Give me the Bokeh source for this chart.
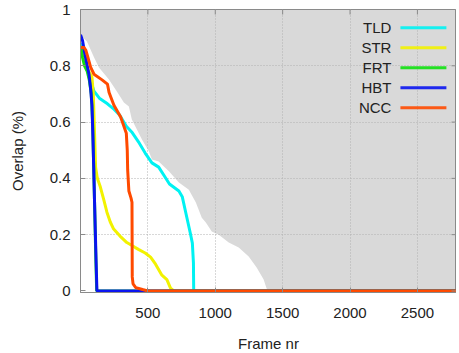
import math
from bokeh.plotting import figure
from bokeh.models import Range1d, FixedTicker, Label, BoxAnnotation
from bokeh.embed import file_html
from bokeh.resources import INLINE

# ---- data ----
tld_x = [0, 40, 80, 100, 140, 200, 250, 290, 340, 380, 430, 480, 530, 580, 620, 660, 730, 755, 785, 815, 830, 838, 840, 2790]
tld_y = [0.88, 0.80, 0.74, 0.71, 0.685, 0.665, 0.645, 0.625, 0.585, 0.565, 0.53, 0.49, 0.455, 0.44, 0.41, 0.38, 0.355, 0.335, 0.27, 0.205, 0.17, 0.10, 0.0, 0.0]

str_x = [0, 20, 50, 85, 95, 105, 112, 125, 147, 172, 196, 221, 246, 293, 344, 404, 433, 480, 520, 557, 604, 641, 668, 693, 2790]
str_y = [0.87, 0.83, 0.79, 0.76, 0.70, 0.55, 0.44, 0.40, 0.37, 0.325, 0.28, 0.245, 0.22, 0.195, 0.172, 0.155, 0.147, 0.135, 0.12, 0.095, 0.056, 0.04, 0.01, 0.0, 0.0]

frt_x = [0, 15, 30, 50, 65, 80, 90, 98, 105, 112, 120, 2790]
frt_y = [0.87, 0.83, 0.80, 0.78, 0.75, 0.70, 0.60, 0.44, 0.30, 0.15, 0.0, 0.0]

hbt_x = [0, 15, 33, 50, 63, 75, 85, 92, 98, 104, 110, 116, 122, 2790]
hbt_y = [0.91, 0.89, 0.84, 0.80, 0.77, 0.72, 0.66, 0.55, 0.44, 0.32, 0.21, 0.10, 0.0, 0.0]

ncc_x = [0, 25, 40, 55, 75, 100, 160, 200, 212, 248, 298, 322, 340, 347, 350, 359, 375, 382, 384, 390, 410, 460, 500, 2790]
ncc_y = [0.865, 0.865, 0.855, 0.83, 0.795, 0.77, 0.75, 0.735, 0.705, 0.66, 0.618, 0.585, 0.56, 0.50, 0.43, 0.355, 0.33, 0.315, 0.05, 0.025, 0.012, 0.005, 0.0, 0.0]

# upper bound (white region)
bound_x = [0, 20, 48, 100, 137, 211, 270, 322, 359, 381, 456, 507, 530, 580, 656, 730, 804, 856, 900, 930, 974, 1026, 1100, 1174, 1248, 1307, 1359, 1381, 1396, 2790]
bound_y = [0.905, 0.90, 0.886, 0.83, 0.794, 0.751, 0.709, 0.67, 0.655, 0.609, 0.538, 0.496, 0.467, 0.46, 0.425, 0.385, 0.36, 0.314, 0.26, 0.243, 0.211, 0.2, 0.172, 0.154, 0.122, 0.083, 0.041, 0.009, 0.0, 0.0]

series_names = ["TLD", "STR", "FRT", "HBT", "NCC"]
series_colors = ["#00f2f2", "#f2f200", "#10e010", "#0a14f0", "#ff4a00"]
series_x = [tld_x, str_x, frt_x, hbt_x, ncc_x]
series_y = [tld_y, str_y, frt_y, hbt_y, ncc_y]

x_ticks = [500, 1000, 1500, 2000, 2500]
y_ticks = [0, 0.2, 0.4, 0.6, 0.8, 1]
y_tick_labels = ["0", "0.2", "0.4", "0.6", "0.8", "1"]
X_MAX = 2790
Y_MIN = -0.0055

FONT = "Liberation Sans"
AXIS_COL = "#8a8a8a"

p = figure(frame_width=376, frame_height=283,
           x_range=Range1d(0, X_MAX), y_range=Range1d(Y_MIN, 1),
           output_backend="svg", toolbar_location=None,
           min_border_left=80, min_border_top=9, min_border_right=0, min_border_bottom=58,
           background_fill_color="#d9d9d9", border_fill_color="white",
           outline_line_color=AXIS_COL)

# white region under the upper bound
r = p.varea(x=bound_x, y1=[Y_MIN] * len(bound_x), y2=bound_y, fill_color="white")
r.level = "image"

for xs, ys, c in zip(series_x, series_y, series_colors):
    p.line(xs, ys, line_color=c, line_width=3)

# axes
p.xaxis.ticker = FixedTicker(ticks=x_ticks)
p.yaxis.ticker = FixedTicker(ticks=y_ticks)
p.yaxis.major_label_overrides = {t: l for t, l in zip(y_ticks, y_tick_labels)}
for ax in (p.xaxis[0], p.yaxis[0]):
    ax.axis_line_color = AXIS_COL
    ax.major_tick_line_color = AXIS_COL
    ax.major_tick_in = 5
    ax.major_tick_out = 0
    ax.minor_tick_line_color = None
    ax.major_label_text_font = FONT
    ax.major_label_text_font_size = "15px"
    ax.major_label_text_color = "#222222"
    ax.axis_label_text_font = FONT
    ax.axis_label_text_font_size = "15px"
    ax.axis_label_text_font_style = "normal"
    ax.axis_label_text_color = "#222222"
p.xaxis.axis_label = "Frame nr"
p.yaxis.axis_label = "Overlap (%)"
p.xaxis.major_label_standoff = 15
p.xaxis.axis_label_standoff = 14
p.yaxis.major_label_standoff = 10
p.yaxis.axis_label_standoff = 21

# mirrored tick marks on top / right spines
p.ray(x=x_ticks, y=[1] * len(x_ticks), length=5, length_units="screen",
      angle=-math.pi / 2, line_color=AXIS_COL, line_width=1)
p.ray(x=[X_MAX] * len(y_ticks), y=y_ticks, length=5, length_units="screen",
      angle=math.pi, line_color=AXIS_COL, line_width=1)

# grid
for g in (p.xgrid[0], p.ygrid[0]):
    g.grid_line_color = "#b0b0b0"
    g.grid_line_dash = "1 2"
    g.grid_line_width = 1
p.xgrid.ticker = FixedTicker(ticks=x_ticks)
p.ygrid.ticker = FixedTicker(ticks=[0.2, 0.4, 0.6, 0.8])

# legend (labels left of samples)
leg_text_x = 2307
leg_line_x0, leg_line_x1 = 2374, 2715
leg_rows = [0.935, 0.864, 0.793, 0.722, 0.651]
half = 0.0055
for name, c, yy in zip(series_names, series_colors, leg_rows):
    p.add_layout(Label(x=leg_text_x, y=yy, text=name, text_align="right", text_baseline="middle",
                       text_font=FONT, text_font_size="15px", text_color="#222222"))
    p.add_layout(BoxAnnotation(left=leg_line_x0, right=leg_line_x1, bottom=yy - half, top=yy + half,
                               fill_color=c, fill_alpha=0.9, line_color=None))

open("out.html", "w").write(file_html(p, INLINE))
